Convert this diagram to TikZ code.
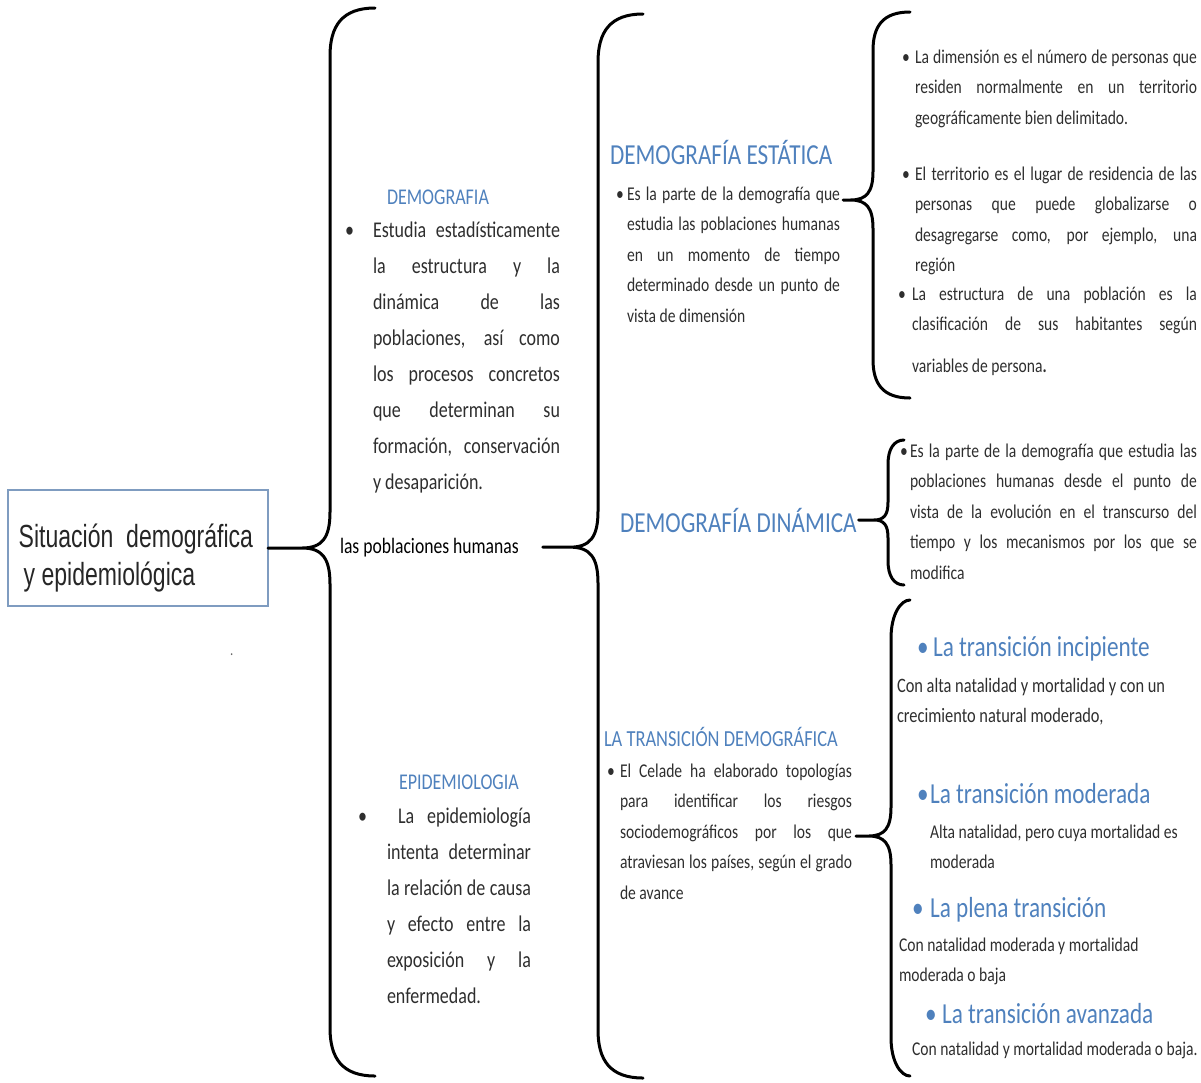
\documentclass[tikz,border=0pt]{standalone}
\usepackage{fontspec}
\setmainfont{Carlito}[FakeStretch=0.8]
\newfontfamily\arialfont{Liberation Sans}[FakeStretch=0.72]
\usetikzlibrary{calc}

\definecolor{azul}{HTML}{4F81BD}
\definecolor{texto}{HTML}{2E2E2E}
\definecolor{marco}{HTML}{7F9CC0}

\newcommand{\fs}[2]{\fontsize{#1}{#2}\selectfont}
% one justified line
\newcommand{\jl}[1]{{\spaceskip=0pt\xspaceskip=0pt\makebox[\hsize][s]{#1}}}
% bullet hanging in front of the text
\newcommand{\bul}[2][texto]{\llap{\makebox[#2][l]{\textcolor{#1}{•}}}}
% curly brace: tip, spine x, top y, bottom y, end x, size
\newcommand{\llave}[6]{%
	\draw[llave] let \p1 = (#1) in
		(\p1) -- ({#2-28*#6},\y1)
		.. controls ({#2-8*#6},\y1) and (#2,{\y1+10pt*#6}) .. (#2,{\y1+36pt*#6})
		-- (#2,{#3+48*#6})
		.. controls (#2,{#3+18*#6}) and ({#2+12*#6},#3) .. (#5,#3)
		({#2-28*#6},\y1)
		.. controls ({#2-8*#6},\y1) and (#2,{\y1-10pt*#6}) .. (#2,{\y1-36pt*#6})
		-- (#2,{#4-48*#6})
		.. controls (#2,{#4-18*#6}) and ({#2+12*#6},#4) .. (#5,#4);
}

\begin{document}
\begin{tikzpicture}
[
	x	= 1pt,	% one unit is one pixel of the page
	y	= -1pt,	% y runs downwards
	%
	%
	% ----------- options for the nodes --------------
	every node/.style =
	{
		inner sep	= 0pt,
		outer sep	= 0pt,
		anchor		= base west,
		text		= texto,
		execute at begin node = {\spaceskip=0pt\xspaceskip=0pt\relax}
	},
	%
	titulo/.style =
	{
		text	= azul,
		font	= \fs{29}{35}
	},
	%
	subtitulo/.style =
	{
		text	= azul,
		font	= \fs{22.5}{27}
	},
	%
	cuerpo/.style =
	{
		align	= flush left,
		font	= \fs{19.5}{30.5}
	},
	%
	cuerpog/.style =
	{
		align	= flush left,
		font	= \fs{22.5}{36}
	},
	%
	llave/.style =
	{
		draw,
		black,
		line width	= 3pt,
		line cap	= round
	}
]

\useasboundingbox (0,0) rectangle (1201,1082);

% root
\node[draw = marco, line width = 1.1pt, anchor = center, minimum width = 260pt,
	minimum height = 116pt, align = flush left,
	font = \arialfont\fs{32}{38}, text = black!85] (root) at (138,548)
	{\rule{0pt}{44pt}Situación\ \ demográfica\\ \hspace*{5pt}y epidemiológica\hspace*{62pt}};

\node[font = \fs{16}{18}, text = black!60] (punto) at (230,655) {.};

% first level
\node[subtitulo] (demo) at (387,204) {DEMOGRAFIA};
\node[cuerpog, text width = 187pt] (demob) at (373,237)
	{\bul{28pt}\jl{Estudia estadísticamente}\\
	\jl{la estructura y la}\\
	\jl{dinámica de las}\\
	\jl{poblaciones, así como}\\
	\jl{los procesos concretos}\\
	\jl{que determinan su}\\
	\jl{formación, conservación}\\
	y desaparición.};

\node[font = \fs{22}{25}, text = black] (pob) at (340,553) {las poblaciones humanas};

\node[subtitulo] (epi) at (399,789) {EPIDEMIOLOGIA};
\node[cuerpog, text width = 144pt] (epib) at (387,823)
	{\bul{29pt}\jl{\hspace*{11pt}La epidemiología}\\
	\jl{intenta determinar}\\
	\jl{la relación de causa}\\
	\jl{y efecto entre la}\\
	\jl{exposición y la}\\
	enfermedad.};

% second level
\node[titulo] (est) at (610,164) {DEMOGRAFÍA ESTÁTICA};
\node[cuerpo, text width = 213pt] (estb) at (627,200)
	{\bul{11pt}\jl{Es la parte de la demografía que}\\
	\jl{estudia las poblaciones humanas}\\
	\jl{en un momento de tiempo}\\
	\jl{determinado desde un punto de}\\
	vista de dimensión};

\node[titulo] (din) at (620,532) {DEMOGRAFÍA DINÁMICA};

\node[subtitulo, font = \fs{23}{27}] (tra) at (604,746) {LA TRANSICIÓN DEMOGRÁFICA};
\node[cuerpo, text width = 232pt] (trab) at (620,777)
	{\bul{13pt}\jl{El Celade ha elaborado topologías}\\
	\jl{para identificar los riesgos}\\
	\jl{sociodemográficos por los que}\\
	\jl{atraviesan los países, según el grado}\\
	de avance};

% third level, estatica
\node[cuerpo, text width = 282pt] (dim) at (915,63)
	{\bul{13pt}\jl{La dimensión es el número de personas que}\\
	\jl{residen normalmente en un territorio}\\
	geográficamente bien delimitado.};
\node[cuerpo, text width = 282pt] (terr) at (915,180)
	{\bul{13pt}\jl{El territorio es el lugar de residencia de las}\\
	\jl{personas que puede globalizarse o}\\
	\jl{desagregarse como, por ejemplo, una}\\
	región};
\node[cuerpo, text width = 285pt] (estr) at (912,300)
	{\bul{14pt}\jl{La estructura de una población es la}\\
	\jl{clasificación de sus habitantes según}\\[11pt]
	variables de persona\textbf{.}};

% third level, dinamica
\node[cuerpo, text width = 287pt] (dinb) at (910,457)
	{\bul{10pt}\jl{Es la parte de la demografía que estudia las}\\
	\jl{poblaciones humanas desde el punto de}\\
	\jl{vista de la evolución en el transcurso del}\\
	\jl{tiempo y los mecanismos por los que se}\\
	modifica};

% third level, transicion
\node[titulo] (inc) at (933,656) {\bul[azul]{16pt}La transición incipiente};
\node[cuerpo, font = \fs{20.5}{30}, text width = 300pt] (incb) at (897,692)
	{Con alta natalidad y mortalidad y con un\\
	crecimiento natural moderado,};
\node[titulo] (mod) at (930,803) {\bul[azul]{13pt}La transición moderada};
\node[cuerpo, text width = 268pt] (modb) at (930,838)
	{Alta natalidad, pero cuya mortalidad es\\
	moderada};
\node[titulo] (ple) at (930,917) {\bul[azul]{18pt}La plena transición};
\node[cuerpo, text width = 300pt] (pleb) at (899,951)
	{Con natalidad moderada y mortalidad\\
	moderada o baja};
\node[titulo] (ava) at (942,1023) {\bul[azul]{17pt}La transición avanzada};
\node[cuerpo] (avab) at (912,1055) {Con natalidad y mortalidad moderada o baja.};

% braces
\coordinate (t3) at (843,200);
\coordinate (t5) at (856,836);

\llave{root.east}{330}{8}{1076}{375}{1}
\llave{[xshift=24pt]pob.east}{598}{14}{1078}{643}{1}
\llave{t3}{873}{12}{398}{910}{0.8}
\llave{[xshift=2pt]din.east}{888}{440}{585}{904}{0.5}
\llave{t5}{891}{600}{1076}{910}{0.8}

\end{tikzpicture}
\end{document}
